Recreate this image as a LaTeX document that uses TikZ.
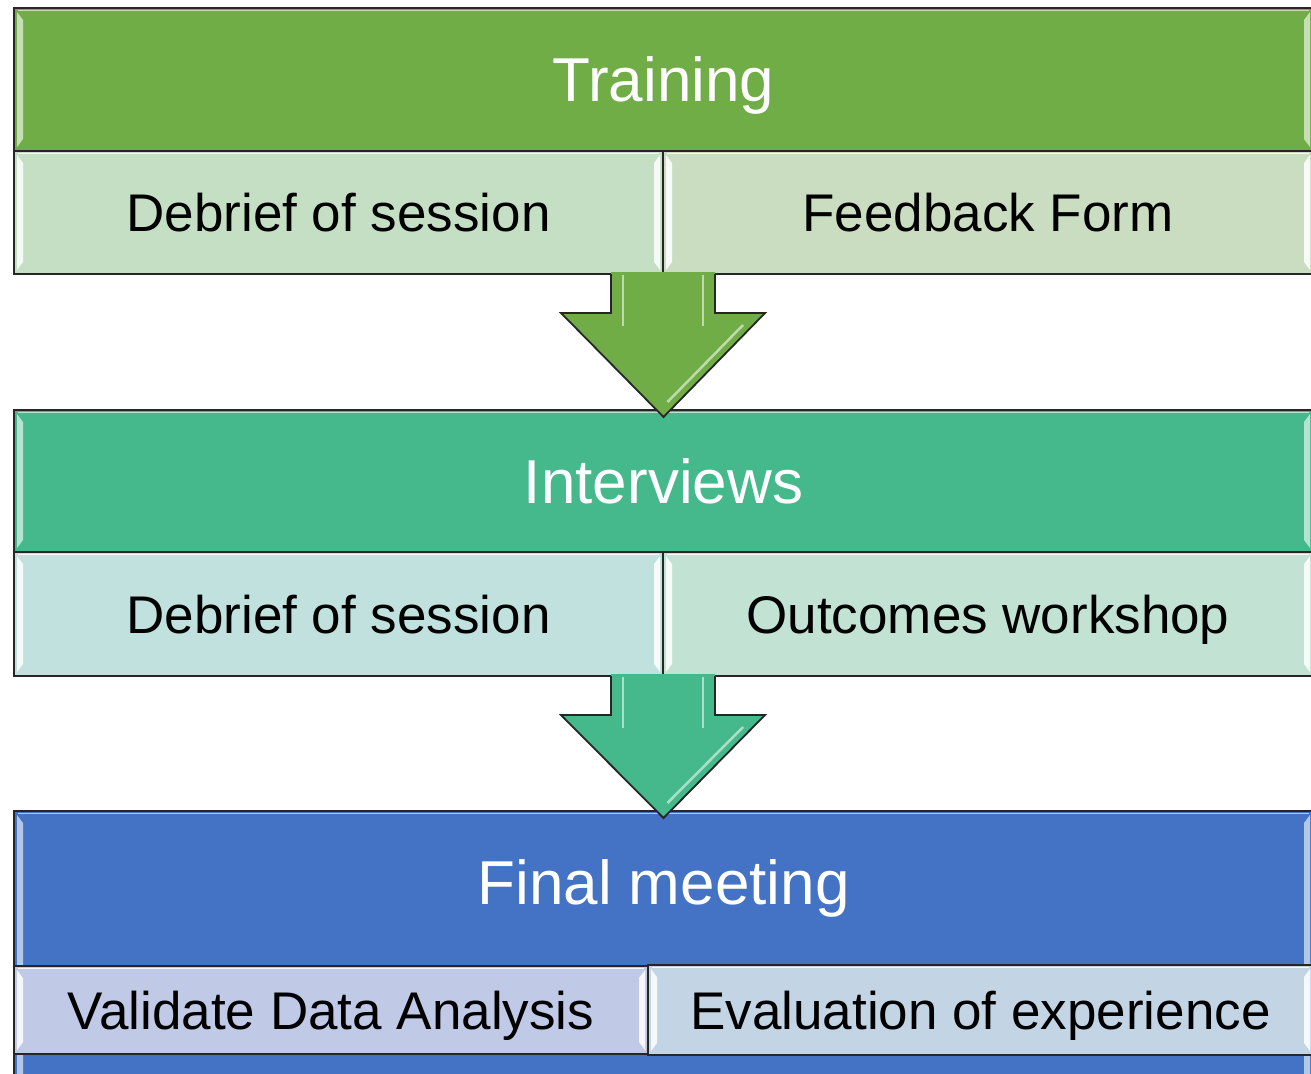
\documentclass[tikz,border=0pt]{standalone}
\usepackage{fontspec}
\setmainfont{Liberation Sans}
\usetikzlibrary{calc}
\definecolor{grH}{HTML}{70AD47}
\definecolor{grL}{HTML}{C5DFC5}
\definecolor{grR}{HTML}{CADDC1}
\definecolor{tlH}{HTML}{45B98C}
\definecolor{tlL}{HTML}{C0E1DD}
\definecolor{tlR}{HTML}{C2E2D3}
\definecolor{blH}{HTML}{4472C4}
\definecolor{blL}{HTML}{C0C9E5}
\definecolor{blR}{HTML}{C3D4E5}
\newcommand\hdfont{\fontsize{62}{70}\selectfont}
\newcommand\sbfont{\fontsize{53}{60}\selectfont}
\newcommand\bvl[2]{%
  \fill[#2] ([shift={(3pt,-4pt)}]#1.north west) -- ([shift={(9pt,-12pt)}]#1.north west)
     -- ([shift={(9pt,12pt)}]#1.south west) -- ([shift={(3pt,4pt)}]#1.south west) -- cycle;
  \fill[#2] ([shift={(-3pt,-4pt)}]#1.north east) -- ([shift={(-9pt,-12pt)}]#1.north east)
     -- ([shift={(-9pt,12pt)}]#1.south east) -- ([shift={(-3pt,4pt)}]#1.south east) -- cycle;
  \draw[#2, line width=1.5pt] ([shift={(4pt,-2.5pt)}]#1.north west) -- ([shift={(-4pt,-2.5pt)}]#1.north east);
}
\newcommand\blockarrow[3]{% from coordinate #1 to node #2, colour #3
  \fill[#3] ($(#1)+(-52,-2)$) -- ($(#1)+(-52,39)$) -- ($(#1)+(-102,39)$) -- ($(#2.north)+(0,7)$)
     -- ($(#1)+(102,39)$) -- ($(#1)+(52,39)$) -- ($(#1)+(52,-2)$) -- cycle;
  \draw[#3!45!white, line width=2.5pt] ($(#1)+(-40,1)$) -- ($(#1)+(-40,52)$);
  \draw[#3!45!white, line width=2.5pt] ($(#1)+(40,1)$) -- ($(#1)+(40,52)$);
  \draw[#3!45!white, line width=2.5pt] ($(#1)+(80,51)$) -- ($(#2.north)+(4,-8)$);
  \draw[black!85, line width=1.8pt, line join=miter] ($(#1)+(-52,0)$) -- ($(#1)+(-52,39)$) -- ($(#1)+(-102,39)$) -- ($(#2.north)+(0,7)$)
     -- ($(#1)+(102,39)$) -- ($(#1)+(52,39)$) -- ($(#1)+(52,0)$);
}
\begin{document}
\begin{tikzpicture}[x=1pt,y=-1pt,
  box/.style={draw=black!85, line width=2pt, anchor=north west, inner sep=0pt, outer sep=0pt,
    text=black, font=\sbfont, text height=38pt, text depth=0pt},
  hdr/.style={box, text=white, font=\hdfont, text height=44pt}]
\clip (0,0) rectangle (1311,1073);
\fill[white] (0,0) rectangle (1311,1073);
% Training
\node[hdr, fill=grH, minimum width=1299pt, minimum height=143pt] (train) at (14,8) {Training};
\bvl{train}{grH!40!white}
\node[box, fill=grL, minimum width=649pt, minimum height=123pt] (tsubL) at (14,151) {Debrief of session};
\bvl{tsubL}{white!85!grL}
\node[box, fill=grR, minimum width=650pt, minimum height=123pt] (tsubR) at (663,151) {Feedback Form};
\bvl{tsubR}{white!85!grR}
% Interviews
\node[hdr, fill=tlH, minimum width=1299pt, minimum height=142pt] (intv) at (14,410) {Interviews};
\bvl{intv}{tlH!40!white}
\node[box, fill=tlL, minimum width=649pt, minimum height=124pt] (isubL) at (14,552) {Debrief of session};
\bvl{isubL}{white!85!tlL}
\node[box, fill=tlR, minimum width=650pt, minimum height=124pt] (isubR) at (663,552) {Outcomes workshop};
\bvl{isubR}{white!85!tlR}
% Final meeting
\node[box, fill=blH, minimum width=1299pt, minimum height=275pt] (final) at (14,811) {};
\bvl{final}{blH!40!white}
\node[text=white, font=\hdfont, inner sep=0pt, text height=44pt, text depth=0pt] (ftext) at (663.5,882) {Final meeting};
\node[box, fill=blL, minimum width=634pt, minimum height=88pt] (fsubL) at (14,966) {Validate Data Analysis};
\bvl{fsubL}{white!85!blL}
\node[box, fill=blR, minimum width=665pt, minimum height=90pt] (fsubR) at (648,965) {Evaluation of experience};
\bvl{fsubR}{white!85!blR}
% arrows
\coordinate (a1) at (tsubL.south east);
\coordinate (a2) at (isubL.south east);
\blockarrow{a1}{intv}{grH}
\blockarrow{a2}{final}{tlH}
\end{tikzpicture}
\end{document}
